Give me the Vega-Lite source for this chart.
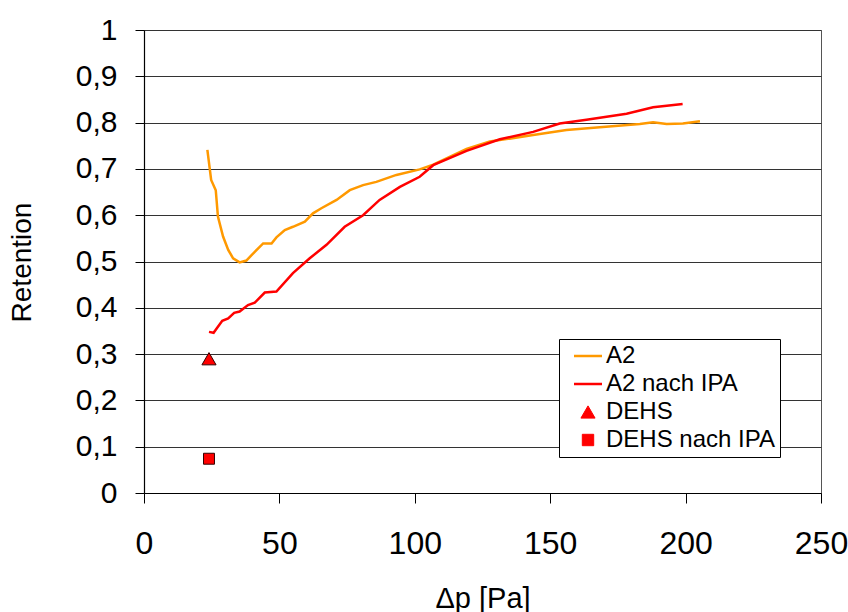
{
  "$schema": "https://vega.github.io/schema/vega-lite/v6.json",
  "width": 677,
  "height": 463,
  "autosize": {"type": "none"},
  "padding": {"left": 144, "top": 30, "right": 27, "bottom": 119},
  "background": "white",
  "config": {
    "font": "Liberation Sans",
    "view": {"stroke": "#555555", "strokeWidth": 1},
    "axis": {"labelFont": "Liberation Sans", "titleFont": "Liberation Sans", "labelColor": "#000", "titleColor": "#000", "titleFontWeight": "normal", "domainColor": "#000", "tickColor": "#000"},
    "legend": {"labelFont": "Liberation Sans"}
  },
  "datasets": {
    "curves": [
      {"series": "A2", "dp": 23.4, "ret": 0.741},
      {"series": "A2", "dp": 24.8, "ret": 0.676},
      {"series": "A2", "dp": 26.5, "ret": 0.654},
      {"series": "A2", "dp": 27.3, "ret": 0.597},
      {"series": "A2", "dp": 29.2, "ret": 0.554},
      {"series": "A2", "dp": 31.1, "ret": 0.525},
      {"series": "A2", "dp": 32.9, "ret": 0.507},
      {"series": "A2", "dp": 35.3, "ret": 0.498},
      {"series": "A2", "dp": 37.8, "ret": 0.502},
      {"series": "A2", "dp": 40.9, "ret": 0.521},
      {"series": "A2", "dp": 44.0, "ret": 0.539},
      {"series": "A2", "dp": 47.1, "ret": 0.539},
      {"series": "A2", "dp": 48.9, "ret": 0.552},
      {"series": "A2", "dp": 52.0, "ret": 0.568},
      {"series": "A2", "dp": 55.0, "ret": 0.575},
      {"series": "A2", "dp": 59.4, "ret": 0.586},
      {"series": "A2", "dp": 62.4, "ret": 0.604},
      {"series": "A2", "dp": 65.5, "ret": 0.615},
      {"series": "A2", "dp": 71.1, "ret": 0.633},
      {"series": "A2", "dp": 76.0, "ret": 0.654},
      {"series": "A2", "dp": 80.9, "ret": 0.665},
      {"series": "A2", "dp": 85.8, "ret": 0.672},
      {"series": "A2", "dp": 93.2, "ret": 0.687},
      {"series": "A2", "dp": 101.8, "ret": 0.699},
      {"series": "A2", "dp": 106.8, "ret": 0.709},
      {"series": "A2", "dp": 119.1, "ret": 0.743},
      {"series": "A2", "dp": 127.7, "ret": 0.759},
      {"series": "A2", "dp": 143.7, "ret": 0.773},
      {"series": "A2", "dp": 156.0, "ret": 0.784},
      {"series": "A2", "dp": 168.3, "ret": 0.790},
      {"series": "A2", "dp": 183.1, "ret": 0.797},
      {"series": "A2", "dp": 188.0, "ret": 0.801},
      {"series": "A2", "dp": 193.0, "ret": 0.797},
      {"series": "A2", "dp": 199.0, "ret": 0.798},
      {"series": "A2", "dp": 205.3, "ret": 0.803},
      {"series": "A2 nach IPA", "dp": 24.0, "ret": 0.348},
      {"series": "A2 nach IPA", "dp": 25.7, "ret": 0.346},
      {"series": "A2 nach IPA", "dp": 27.3, "ret": 0.359},
      {"series": "A2 nach IPA", "dp": 28.9, "ret": 0.372},
      {"series": "A2 nach IPA", "dp": 31.1, "ret": 0.377},
      {"series": "A2 nach IPA", "dp": 33.3, "ret": 0.389},
      {"series": "A2 nach IPA", "dp": 35.3, "ret": 0.392},
      {"series": "A2 nach IPA", "dp": 38.4, "ret": 0.406},
      {"series": "A2 nach IPA", "dp": 40.9, "ret": 0.411},
      {"series": "A2 nach IPA", "dp": 44.6, "ret": 0.433},
      {"series": "A2 nach IPA", "dp": 48.9, "ret": 0.435},
      {"series": "A2 nach IPA", "dp": 55.0, "ret": 0.475},
      {"series": "A2 nach IPA", "dp": 61.2, "ret": 0.507},
      {"series": "A2 nach IPA", "dp": 67.4, "ret": 0.536},
      {"series": "A2 nach IPA", "dp": 74.1, "ret": 0.575},
      {"series": "A2 nach IPA", "dp": 80.9, "ret": 0.600},
      {"series": "A2 nach IPA", "dp": 87.0, "ret": 0.633},
      {"series": "A2 nach IPA", "dp": 94.5, "ret": 0.661},
      {"series": "A2 nach IPA", "dp": 101.8, "ret": 0.683},
      {"series": "A2 nach IPA", "dp": 106.8, "ret": 0.708},
      {"series": "A2 nach IPA", "dp": 119.1, "ret": 0.739},
      {"series": "A2 nach IPA", "dp": 131.4, "ret": 0.764},
      {"series": "A2 nach IPA", "dp": 143.7, "ret": 0.780},
      {"series": "A2 nach IPA", "dp": 153.5, "ret": 0.798},
      {"series": "A2 nach IPA", "dp": 163.4, "ret": 0.806},
      {"series": "A2 nach IPA", "dp": 178.2, "ret": 0.819},
      {"series": "A2 nach IPA", "dp": 188.0, "ret": 0.833},
      {"series": "A2 nach IPA", "dp": 198.9, "ret": 0.840}
    ],
    "points": [
      {"series": "DEHS", "dp": 24.0, "ret": 0.290},
      {"series": "DEHS nach IPA", "dp": 24.0, "ret": 0.074}
    ]
  },
  "encoding": {
    "x": {
      "field": "dp", "type": "quantitative",
      "scale": {"domain": [0, 250], "nice": false, "zero": false},
      "axis": {"title": "Δp [Pa]", "values": [0, 50, 100, 150, 200, 250], "grid": false, "tickSize": 10, "labelPadding": 50, "labelBaseline": "alphabetic", "labelFontSize": 32, "labelFlush": false, "titleFontSize": 29, "titleY": 114, "titleBaseline": "alphabetic", "domainWidth": 1.2}
    },
    "y": {
      "field": "ret", "type": "quantitative",
      "scale": {"domain": [0, 1], "nice": false},
      "axis": {"title": "Retention", "values": [0, 0.1, 0.2, 0.3, 0.4, 0.5, 0.6, 0.7, 0.8, 0.9, 1], "labelExpr": "replace(format(datum.value, '.1~f'), '.', ',')", "grid": true, "gridColor": "#333333", "gridWidth": 1.2, "gridOpacity": 1, "tickSize": 9, "labelPadding": 18, "labelFontSize": 30, "labelFlush": false, "titleFontSize": 28, "titleX": -122, "titleY": 232, "titleAngle": -90, "titleAlign": "center", "titleBaseline": "middle", "domainWidth": 1.2}
    },
    "color": {
      "field": "series", "type": "nominal",
      "scale": {"domain": ["A2", "A2 nach IPA", "DEHS", "DEHS nach IPA"], "range": ["#ff9900", "#ff0000", "#ff0000", "#ff0000"]},
      "legend": {
        "title": null, "orient": "none", "legendX": 415, "legendY": 309,
        "fillColor": "white", "strokeColor": "#000", "padding": 5,
        "symbolOffset": 12, "symbolSize": 784, "labelFontSize": 24, "labelOffset": 6, "labelLimit": 400, "rowPadding": 4, "labelColor": "#000",
        "encode": {
          "symbols": {"update": {
            "shape": {"signal": "datum.value=='DEHS' ? 'triangle-up' : datum.value=='DEHS nach IPA' ? 'square' : 'stroke'"},
            "size": {"signal": "datum.value=='DEHS' ? 200 : datum.value=='DEHS nach IPA' ? 130 : 784"},
            "fill": {"signal": "(datum.value=='DEHS' || datum.value=='DEHS nach IPA') ? '#ff0000' : 'transparent'"},
            "stroke": {"signal": "datum.value=='A2' ? '#ff9900' : datum.value=='A2 nach IPA' ? '#ff0000' : '#330000'"},
            "strokeWidth": {"signal": "(datum.value=='A2' || datum.value=='A2 nach IPA') ? 2.5 : 1"},
            "opacity": {"value": 1}
          }}
        }
      }
    }
  },
  "layer": [
    {
      "data": {"name": "curves"},
      "mark": {"type": "line", "strokeWidth": 2.5, "interpolate": "linear"},
      "encoding": {"detail": {"field": "series"}}
    },
    {
      "data": {"name": "points"},
      "transform": [{"filter": "datum.series == 'DEHS'"}],
      "mark": {"type": "point", "shape": "triangle-up", "filled": true, "size": 200, "stroke": "#330000", "strokeWidth": 1, "opacity": 1}
    },
    {
      "data": {"name": "points"},
      "transform": [{"filter": "datum.series == 'DEHS nach IPA'"}],
      "mark": {"type": "point", "shape": "square", "filled": true, "size": 120, "stroke": "#330000", "strokeWidth": 1, "opacity": 1}
    }
  ]
}
